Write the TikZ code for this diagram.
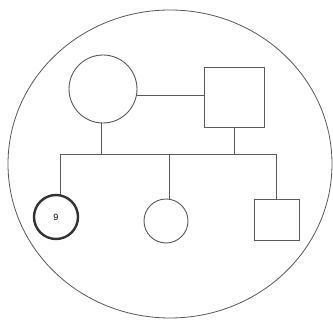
\documentclass[tikz,border=0pt]{standalone}
\usepackage{fontspec}
\setmainfont{Liberation Sans}
\usetikzlibrary{shapes.geometric}
\begin{document}
\begin{tikzpicture}[x=1pt,y=-1pt,
  ln/.style={draw=black!65, line width=0.9pt},
  female/.style={ln, circle, inner sep=0pt},
  male/.style={ln, rectangle, inner sep=0pt},
  proband/.style={draw=black!80, circle, line width=2.4pt, inner sep=0pt, minimum size=44pt, font=\fontsize{9}{10}\selectfont}]
\useasboundingbox (0,0) rectangle (333,320);
\fill[white] (0,0) rectangle (333,320);
\node[ln, ellipse, minimum width=324pt, minimum height=308pt, inner sep=0pt, line width=0.8pt] (frame) at (170,164) {};
\node[female, minimum size=68pt] (mother) at (103,89) {};
\node[male, minimum width=60pt, minimum height=60pt] (father) at (234,97) {};
\node[proband] (c1) at (56,217) {9};
\node[female, minimum size=44pt] (c2) at (166,221) {};
\node[male, minimum width=45pt, minimum height=41pt] (c3) at (277,220) {};
\coordinate (mb) at (101,154);
\coordinate (fb) at (234,154);
\coordinate (l) at (60,154);
\coordinate (m) at (169,154);
\coordinate (r) at (276,154);
\draw[ln] (mother.east |- 0,95) -- (father.west |- 0,95);
\draw[ln] (mother.south -| mb) -- (mb);
\draw[ln] (father.south) -- (fb);
\draw[ln] (l) -- (r);
\draw[ln] (l) -- (l |- c1.north);
\draw[ln] (m) -- (m |- c2.north);
\draw[ln] (r) -- (r |- c3.north);
\end{tikzpicture}
\end{document}
